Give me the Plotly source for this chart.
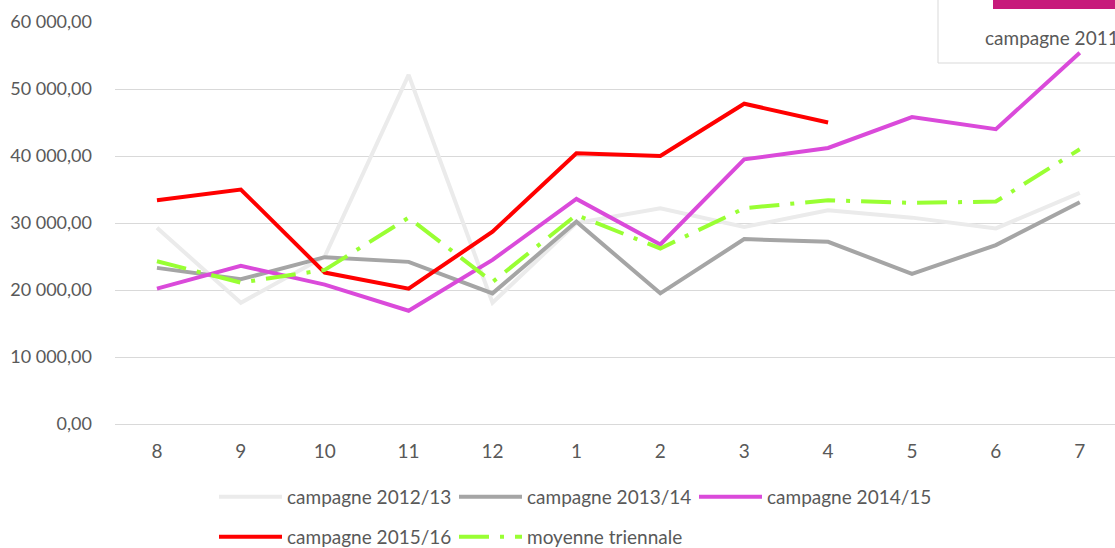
import plotly.graph_objects as go

# === DATA ===
months = ["8", "9", "10", "11", "12", "1", "2", "3", "4", "5", "6", "7"]

camp_2012_13 = [29300, 18100, 25000, 52100, 18100, 30000, 32200, 29400, 31900, 30800, 29200, 34500]
camp_2013_14 = [23300, 21600, 24900, 24200, 19500, 30200, 19500, 27600, 27200, 22400, 26700, 33100]
camp_2014_15 = [20200, 23600, 20800, 16900, 24500, 33600, 26800, 39500, 41200, 45800, 44000, 55400]
camp_2015_16 = [33400, 35000, 22600, 20200, 28700, 40400, 40000, 47800, 45000, None, None, None]
moyenne = [24300, 21100, 23000, 30800, 21200, 31200, 26200, 32200, 33400, 33000, 33200, 41000]

FONT = "Lato"
TXT = "#595959"
L, T, W, H = 115, 22, 1000, 402   # plot area in pixels

fig = go.Figure()

series = [
    ("campagne 2012/13", camp_2012_13, "#EBEBEB", "solid", "legend"),
    ("campagne 2013/14", camp_2013_14, "#A5A5A5", "solid", "legend"),
    ("campagne 2014/15", camp_2014_15, "#DA4ADA", "solid", "legend"),
    ("campagne 2015/16", camp_2015_16, "#FF0000", "solid", "legend2"),
    ("moyenne triennale", moyenne, "#99FF33", "30px,11px,4px,11px", "legend2"),
]
for name, vals, col, dash, leg in series:
    fig.add_trace(go.Scatter(
        x=months, y=vals, name=name, mode="lines",
        line=dict(color=col, width=4, dash=dash),
        legend=leg,
    ))

def px_x(p):
    return (p - L) / W

def px_y(p):
    return (T + H - p) / H

# partial legend box cut at the top right
fig.add_shape(type="rect", xref="paper", yref="paper",
              x0=px_x(938), x1=px_x(1140), y0=px_y(63), y1=px_y(-5),
              line=dict(color="#D9D9D9", width=1), fillcolor="rgba(255,255,255,0)",
              layer="below")
fig.add_shape(type="rect", xref="paper", yref="paper",
              x0=px_x(993), x1=px_x(1140), y0=px_y(9), y1=px_y(-5),
              line=dict(width=0), fillcolor="#C71B7B", layer="below")
fig.add_annotation(text="campagne 2011/12", xref="paper", yref="paper",
                   x=px_x(983), y=px_y(37), xanchor="left", yanchor="middle",
                   showarrow=False, font=dict(family=FONT, size=19, color=TXT))

legend_common = dict(
    orientation="h", xref="container", yref="container",
    xanchor="left", yanchor="middle",
    font=dict(family=FONT, size=19, color=TXT),
    itemwidth=63, entrywidth=162, bgcolor="rgba(0,0,0,0)",
)

fig.update_layout(
    width=1115, height=548,
    margin=dict(l=L, r=0, t=T, b=548 - T - H),
    paper_bgcolor="white", plot_bgcolor="white",
    separators=", ",
    font=dict(family=FONT, size=19, color=TXT),
    xaxis=dict(type="category", range=[-0.5, 11.42], showgrid=False,
               showline=False, ticks="", ticklabelstandoff=14,
               tickfont=dict(size=19, color=TXT)),
    yaxis=dict(range=[0, 60000], dtick=10000, tickformat=",.2f",
               gridcolor="#D9D9D9", gridwidth=1, zeroline=True,
               zerolinecolor="#D9D9D9", zerolinewidth=1, ticks="",
               ticklabelstandoff=22, tickfont=dict(size=18, color=TXT)),
    legend=dict(x=214 / 1115, y=1 - 497 / 548, **legend_common),
    legend2=dict(x=214 / 1115, y=1 - 537 / 548, **legend_common),
)

fig.write_html("out.html", config={"displayModeBar": False},
               post_script="document.body.style.margin='0';document.body.style.overflow='hidden';")
